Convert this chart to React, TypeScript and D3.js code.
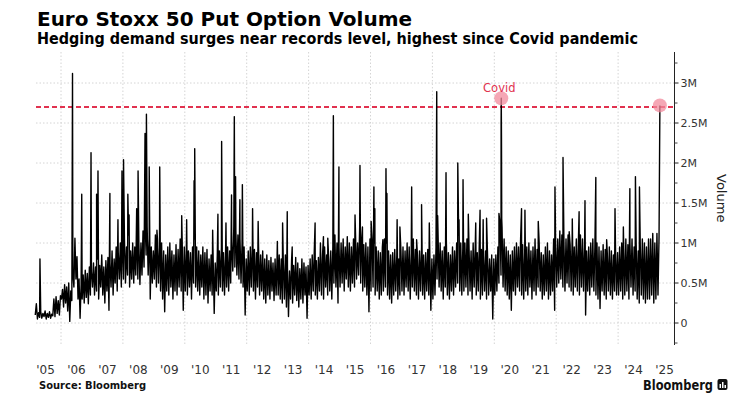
import React from "react";
import * as d3 from "d3";

// ---- Data (volume in millions) ----
const v2005 = [0.10, 0.24, 0.05, 0.13, 0.07, 0.14, 0.06, 0.12, 0.08, 0.15, 0.05, 0.12, 0.07, 0.14, 0.06, 0.11, 0.09, 0.30, 0.08, 0.33, 0.12, 0.28, 0.10, 0.34];
const v2006 = [0.30, 0.42, 0.20, 0.48, 0.25, 0.45, 0.15, 0.50, 0.02, 0.40, 0.28, 0.62, 0.45, 1.06, 0.55, 0.83, 0.30, 0.55, 0.06, 0.48, 0.30, 0.60, 0.25, 0.66, 0.32, 0.62, 0.24, 0.70, 0.35, 0.64];
const v2007 = [0.45, 0.75, 0.35, 0.70, 0.40, 0.80, 0.30, 0.72, 0.45, 0.85, 0.35, 0.70, 0.25, 0.78, 0.40, 0.82, 0.16, 0.75, 0.45, 0.90, 0.35, 0.80, 0.50, 0.95, 0.40, 0.88, 0.55, 1.00, 0.45, 0.95];
const v2008 = [0.55, 1.05, 0.50, 0.95, 0.60, 1.10, 0.45, 0.90, 0.55, 1.00, 0.50, 0.95, 0.60, 1.08, 0.55, 0.98, 0.48, 1.00, 0.60, 1.15, 0.70, 1.30, 0.85, 1.20, 0.60, 1.05, 0.30, 0.95, 0.50, 0.90];
const v2009 = [0.55, 1.10, 0.45, 1.05, 0.50, 0.95, 0.40, 1.00, 0.30, 0.90, 0.14, 0.85, 0.40, 0.95, 0.35, 1.00, 0.45, 0.90, 0.30, 0.85, 0.40, 0.98, 0.35, 0.92, 0.45, 1.05, 0.40, 1.00, 0.16, 0.95];
const v2010 = [0.40, 0.95, 0.35, 0.90, 0.45, 0.88, 0.30, 0.95, 0.50, 1.05, 0.45, 0.95, 0.40, 0.90, 0.35, 0.85, 0.45, 0.95, 0.30, 0.88, 0.35, 0.92, 0.25, 0.80, 0.40, 0.85, 0.35, 0.80, 0.12, 0.75];
const v2011 = [0.40, 0.85, 0.35, 0.90, 0.45, 0.95, 0.40, 0.88, 0.35, 0.85, 0.45, 0.95, 0.40, 0.90, 0.50, 1.00, 0.65, 1.20, 0.70, 1.15, 0.60, 1.10, 0.55, 1.05, 0.50, 1.00, 0.45, 0.95, 0.10, 0.80];
const v2012 = [0.40, 0.90, 0.35, 0.95, 0.45, 1.00, 0.40, 0.92, 0.30, 0.88, 0.45, 0.95, 0.35, 0.85, 0.40, 0.90, 0.30, 0.80, 0.25, 0.85, 0.35, 0.78, 0.30, 0.82, 0.40, 0.75, 0.28, 0.80, 0.35, 0.85];
const v2013 = [0.35, 0.85, 0.30, 0.80, 0.25, 0.75, 0.30, 0.85, 0.20, 0.70, 0.08, 0.65, 0.30, 0.78, 0.25, 0.72, 0.35, 0.82, 0.28, 0.75, 0.20, 0.68, 0.30, 0.80, 0.25, 0.75, 0.35, 0.70, 0.06, 0.72];
const v2014 = [0.35, 0.80, 0.30, 0.85, 0.40, 0.90, 0.35, 0.78, 0.30, 0.82, 0.40, 1.00, 0.35, 0.85, 0.30, 0.95, 0.45, 0.85, 0.35, 0.80, 0.40, 0.90, 0.30, 0.95, 0.50, 1.10, 0.45, 1.00, 0.25, 0.95];
const v2015 = [0.45, 1.00, 0.50, 1.05, 0.40, 0.95, 0.55, 1.08, 0.45, 1.00, 0.40, 0.95, 0.50, 1.05, 0.45, 1.10, 0.55, 1.00, 0.60, 1.20, 0.50, 1.05, 0.40, 0.98, 0.45, 1.00, 0.35, 0.95, 0.14, 1.05];
const v2016 = [0.40, 1.05, 0.45, 1.00, 0.35, 0.95, 0.40, 0.90, 0.30, 0.88, 0.35, 0.95, 0.40, 1.05, 0.45, 1.00, 0.35, 0.90, 0.30, 0.85, 0.25, 0.88, 0.35, 0.92, 0.40, 0.85, 0.30, 0.80, 0.35, 0.90];
const v2017 = [0.40, 0.95, 0.35, 0.90, 0.45, 1.00, 0.40, 0.95, 0.30, 0.88, 0.45, 1.05, 0.40, 0.92, 0.35, 0.85, 0.30, 0.90, 0.40, 0.95, 0.35, 0.85, 0.30, 0.88, 0.40, 0.92, 0.35, 0.85, 0.16, 0.80];
const v2018 = [0.30, 0.85, 0.35, 0.95, 0.55, 1.10, 0.45, 1.00, 0.40, 0.90, 0.30, 0.95, 0.45, 1.05, 0.35, 0.88, 0.30, 0.85, 0.40, 0.95, 0.35, 0.90, 0.45, 1.00, 0.50, 1.10, 0.40, 1.00, 0.35, 0.95];
const v2019 = [0.40, 1.00, 0.45, 1.05, 0.35, 0.95, 0.40, 0.90, 0.30, 1.00, 0.45, 0.95, 0.35, 0.88, 0.40, 1.02, 0.30, 0.92, 0.35, 0.85, 0.40, 0.90, 0.30, 0.82, 0.35, 0.80, 0.40, 0.85, 0.05, 0.80];
const v2020 = [0.35, 0.85, 0.40, 0.95, 0.50, 1.25, 0.60, 1.20, 0.45, 1.05, 0.40, 0.95, 0.35, 0.90, 0.30, 0.85, 0.16, 0.90, 0.40, 0.95, 0.35, 1.00, 0.45, 0.95, 0.40, 1.05, 0.35, 0.98, 0.30, 0.90];
const v2021 = [0.40, 0.95, 0.35, 1.00, 0.45, 0.90, 0.30, 0.95, 0.40, 1.05, 0.35, 0.92, 0.45, 1.00, 0.40, 0.88, 0.30, 0.85, 0.35, 0.95, 0.40, 1.00, 0.30, 0.90, 0.35, 0.85, 0.40, 1.05, 0.16, 0.95];
const v2022 = [0.45, 1.05, 0.50, 1.15, 0.55, 1.10, 0.45, 1.00, 0.40, 1.05, 0.50, 1.10, 0.45, 0.98, 0.40, 1.08, 0.35, 0.95, 0.45, 1.05, 0.40, 1.00, 0.35, 1.10, 0.45, 1.05, 0.40, 0.95, 0.10, 0.90];
const v2023 = [0.40, 0.95, 0.35, 1.00, 0.45, 1.05, 0.40, 0.95, 0.35, 1.00, 0.30, 0.95, 0.18, 0.90, 0.40, 0.98, 0.35, 0.92, 0.30, 0.88, 0.40, 0.95, 0.35, 0.90, 0.30, 0.85, 0.40, 0.92, 0.35, 0.88];
const v2024 = [0.35, 0.95, 0.40, 1.00, 0.30, 0.92, 0.35, 1.05, 0.40, 0.98, 0.30, 1.00, 0.45, 1.05, 0.35, 0.95, 0.40, 1.00, 0.30, 0.90, 0.25, 0.95, 0.35, 1.05, 0.30, 1.00, 0.25, 0.95, 0.30, 1.05];
const v2025 = [0.30, 1.05, 0.35, 1.10, 0.25, 1.00, 0.30, 1.12, 0.35, 1.08];

const years = [2005, 2006, 2007, 2008, 2009, 2010, 2011, 2012, 2013, 2014, 2015, 2016, 2017, 2018, 2019, 2020, 2021, 2022, 2023, 2024, 2025];
const yearValues = [v2005, v2006, v2007, v2008, v2009, v2010, v2011, v2012, v2013, v2014, v2015, v2016, v2017, v2018, v2019, v2020, v2021, v2022, v2023, v2024, v2025];
const seriesStart = 2005.15;
const seriesEnd = 2025.35;

// single-day spikes (decimal year, volume in millions)
const spikeDates = [
  2005.32, 2006.372, 2006.67, 2006.97, 2007.15, 2007.195, 2007.58, 2007.84, 2007.97,
  2008.02, 2008.16, 2008.20, 2008.445, 2008.49, 2008.715, 2008.76, 2008.85,
  2009.10, 2009.19, 2009.90, 2010.06, 2010.30, 2010.32, 2010.90,
  2011.07, 2011.19, 2011.33, 2011.51, 2011.60, 2011.64, 2011.78, 2011.86,
  2012.19, 2012.37, 2012.99, 2013.16, 2013.31, 2013.47,
  2014.21, 2014.48, 2014.62, 2014.80, 2014.98,
  2015.50, 2015.66, 2015.74, 2016.02, 2016.11, 2016.14, 2016.40, 2016.50, 2016.53, 2016.86, 2016.95,
  2017.33, 2017.49, 2017.65, 2017.90,
  2018.14, 2018.17, 2018.44, 2018.82, 2018.86, 2018.99,
  2019.16, 2019.40, 2019.54, 2019.64, 2019.75,
  2020.15, 2020.22, 2020.225, 2020.232, 2020.24, 2020.88, 2020.99,
  2021.42, 2021.96, 2022.22, 2022.42, 2022.52, 2022.74, 2022.93,
  2023.28, 2023.63, 2023.90, 2024.17, 2024.38, 2024.56, 2024.69, 2025.12, 2025.35,
];
const spikeValues = [
  0.80, 3.12, 1.61, 2.13, 1.61, 1.90, 1.62, 1.29, 1.90,
  2.04, 1.61, 1.35, 1.43, 1.90, 2.37, 2.61, 1.95,
  1.16, 1.95, 1.34, 1.29, 1.78, 2.18, 1.16,
  1.36, 2.27, 1.25, 1.60, 2.58, 1.83, 1.54, 1.73,
  1.43, 1.27, 1.02, 1.25, 1.39, 0.95,
  1.25, 1.08, 1.06, 2.59, 1.95,
  1.35, 1.97, 1.20, 1.27, 1.70, 1.43, 1.04, 1.93, 1.62, 1.29, 1.20,
  1.70, 1.04, 1.48, 1.25,
  2.89, 1.34, 1.88, 2.00, 1.29, 1.79,
  1.36, 1.25, 1.41, 1.29, 1.31,
  1.37, 2.50, 2.81, 2.30, 1.30, 1.43, 1.41,
  1.27, 1.70, 2.07, 1.14, 1.30, 1.39, 1.53,
  1.82, 1.04, 1.43, 1.20, 1.68, 1.83, 1.70, 1.12, 2.72,
];

const yTicks = [0, 0.5, 1, 1.5, 2, 2.5, 3];
const yTickLabels = ["0", "0.5M", "1M", "1.5M", "2M", "2.5M", "3M"];
const yMinorTicks = [-0.25, 0.25, 0.75, 1.25, 1.75, 2.25, 2.75, 3.25];
const xLabelYears = d3.range(2005, 2026);
const gridYears = [2006, 2008, 2010, 2012, 2014, 2016, 2018, 2020, 2022, 2024];
const referenceLevel = 2.7;
const covidDate = 2020.225;
const covidValue = 2.81;
const lastDate = 2025.35;
const lastValue = 2.72;

const title = "Euro Stoxx 50 Put Option Volume";
const subtitle = "Hedging demand surges near records level, highest since Covid pandemic";

export default function App() {
  const W = 741;
  const H = 399;
  const plotLeft = 36;
  const axisX = 674.5;
  const plotTop = 52;
  const plotBottom = 345;

  const x = d3.scaleLinear().domain([2006, 2025]).range([61, 649.05]);
  const y = d3.scaleLinear().domain([0, 3]).range([323, 83]);

  const points: { t: number; v: number }[] = [];
  years.forEach((yr, k) => {
    const vals = yearValues[k];
    const start = Math.max(yr, seriesStart);
    const end = Math.min(yr + 1, seriesEnd - 0.01);
    vals.forEach((v, i) => {
      points.push({ t: start + ((i + 0.5) / vals.length) * (end - start), v });
    });
  });
  spikeDates.forEach((t, i) => points.push({ t, v: spikeValues[i] }));
  points.sort((a, b) => a.t - b.t);

  const line = d3
    .line<{ t: number; v: number }>()
    .x((d) => x(d.t))
    .y((d) => y(d.v));

  const red = "#e1324f";
  const font = "'DejaVu Sans', Verdana, sans-serif";

  return (
    <svg
      width={W}
      height={H}
      viewBox={`0 0 ${W} ${H}`}
      style={{ position: "absolute", left: 0, top: 0, background: "#fff" }}
      fontFamily={font}
    >
      <rect x={0} y={0} width={W} height={H} fill="#fff" />
      <text x={37} y={26} fontSize={19} fontWeight="bold" fill="#000" textLength={375} lengthAdjust="spacingAndGlyphs">
        {title}
      </text>
      <text
        x={37}
        y={44}
        fontSize={15}
        fontWeight="bold"
        fill="#000"
        fontFamily="'DejaVu Sans Condensed', 'DejaVu Sans', sans-serif"
        textLength={601}
        lengthAdjust="spacingAndGlyphs"
      >
        {subtitle}
      </text>

      {/* horizontal grid */}
      {yTicks.map((t) => (
        <line key={"hg" + t} x1={plotLeft} x2={axisX} y1={y(t)} y2={y(t)} stroke="#d4d4d4" strokeWidth={1} strokeDasharray="1.5,2" />
      ))}
      {/* vertical grid */}
      {gridYears.map((g) => (
        <line key={"vg" + g} x1={x(g)} x2={x(g)} y1={plotTop} y2={plotBottom} stroke="#d4d4d4" strokeWidth={1} strokeDasharray="1.5,2" />
      ))}

      {/* reference dashed line */}
      <line x1={plotLeft} x2={axisX} y1={y(referenceLevel)} y2={y(referenceLevel)} stroke={red} strokeWidth={2} strokeDasharray="5,3" />

      {/* series */}
      <path d={line(points) || ""} fill="none" stroke="#000" strokeWidth={1.4} strokeLinejoin="round" />

      {/* markers */}
      <circle cx={x(covidDate)} cy={y(covidValue)} r={7} fill="#f28a9c" fillOpacity={0.75} />
      <circle cx={x(lastDate)} cy={y(lastValue)} r={7} fill="#f28a9c" fillOpacity={0.75} />
      <text x={x(covidDate) - 2} y={92} fontSize={11.5} fill={red} textAnchor="middle">
        Covid
      </text>

      {/* right axis */}
      <line x1={axisX} x2={axisX} y1={plotTop} y2={plotBottom} stroke="#222" strokeWidth={1} />
      {yMinorTicks.map((t) => (
        <line key={"mt" + t} x1={axisX} x2={axisX + 3} y1={y(t)} y2={y(t)} stroke="#444" strokeWidth={1} />
      ))}
      {yTicks.map((t, i) => (
        <g key={"yt" + t}>
          <line x1={axisX} x2={axisX + 4} y1={y(t)} y2={y(t)} stroke="#222" strokeWidth={1} />
          <text x={axisX + 6} y={y(t)} dy="0.36em" fontSize={11} fill="#333">
            {yTickLabels[i]}
          </text>
        </g>
      ))}
      <text transform={`translate(717,${y(1.56)}) rotate(90)`} fontSize={13} fill="#222" textAnchor="middle">
        Volume
      </text>

      {/* x labels */}
      {xLabelYears.map((yr) => (
        <text key={"xl" + yr} x={x(yr + 0.5)} y={374} fontSize={12} fill="#333" textAnchor="middle">
          {"'" + String(yr).slice(2)}
        </text>
      ))}

      {/* footer */}
      <text x={39} y={389} fontSize={11} fontWeight="bold" fill="#111" textLength={107} lengthAdjust="spacingAndGlyphs">
        Source: Bloomberg
      </text>
      <text x={643} y={390} fontSize={14} fontWeight="bold" fill="#111" textLength={70} lengthAdjust="spacingAndGlyphs">
        Bloomberg
      </text>
      <rect x={717.5} y={379} width={10} height={11} rx={2} fill="#111" />
      <rect x={719.5} y={384} width={1.5} height={4} fill="#fff" />
      <rect x={722} y={382} width={1.5} height={6} fill="#fff" />
      <rect x={724.5} y={385} width={1.5} height={3} fill="#fff" />
    </svg>
  );
}
